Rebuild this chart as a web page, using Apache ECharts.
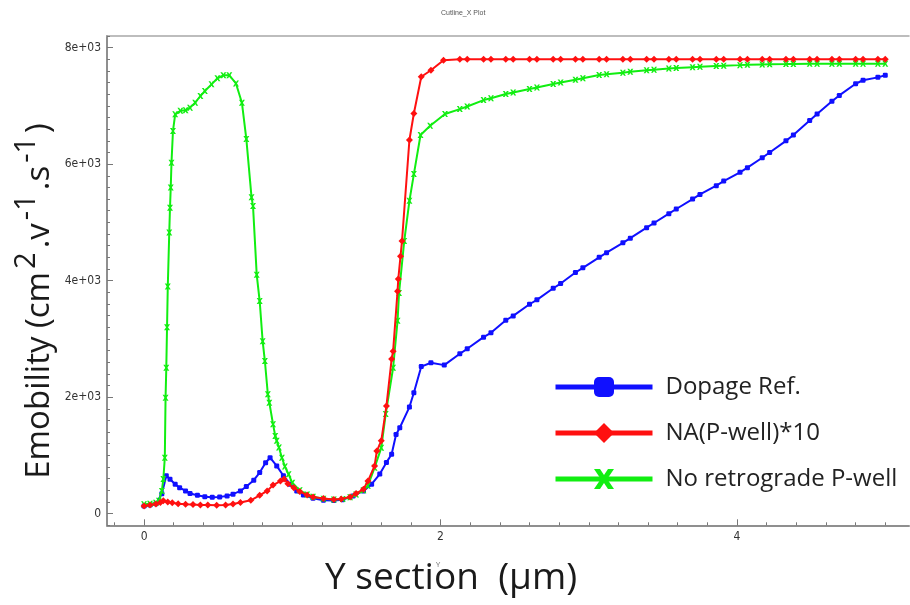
<!DOCTYPE html>
<html>
<head>
<meta charset="utf-8">
<script src="https://cdn.jsdelivr.net/npm/echarts@6/dist/echarts.min.js"></script>
<style>html,body{margin:0;padding:0;background:#fff;}#c{width:910px;height:605px;}</style>
</head>
<body>
<div id="c"></div>
<script>
// ---- data ----
const tailX = [2.13, 2.18, 2.29, 2.34, 2.44, 2.49, 2.60, 2.65, 2.76, 2.81, 2.91, 2.96, 3.07, 3.12, 3.23, 3.28, 3.39, 3.44, 3.54, 3.59, 3.70, 3.75, 3.86, 3.91, 4.02, 4.07, 4.17, 4.22, 4.33, 4.38, 4.49, 4.54, 4.64, 4.69, 4.80, 4.85, 4.95, 5.00];

const blueX = [0, 0.04, 0.08, 0.12, 0.15, 0.175, 0.21, 0.24, 0.28, 0.31, 0.36, 0.41, 0.46, 0.51, 0.56, 0.60, 0.65, 0.69, 0.74, 0.78, 0.82, 0.85, 0.895, 0.94, 0.985, 1.03, 1.075, 1.14, 1.21, 1.28, 1.34, 1.41, 1.48, 1.535, 1.59, 1.635, 1.67, 1.70, 1.725, 1.79, 1.82, 1.87, 1.935, 2.025];
const blueY = [130, 150, 170, 340, 650, 590, 505, 445, 390, 345, 315, 290, 280, 285, 305, 335, 390, 465, 575, 705, 875, 960, 820, 650, 505, 390, 320, 265, 230, 225, 240, 305, 390, 505, 680, 880, 1020, 1360, 1475, 1830, 2075, 2525, 2590, 2550];
const blueTailY = [2745, 2830, 3030, 3105, 3320, 3395, 3595, 3670, 3870, 3950, 4140, 4220, 4400, 4480, 4650, 4730, 4910, 4990, 5150, 5230, 5400, 5480, 5630, 5710, 5860, 5940, 6110, 6200, 6400, 6500, 6750, 6860, 7080, 7180, 7380, 7440, 7490, 7525];

const redX = [0, 0.04, 0.08, 0.11, 0.13, 0.16, 0.19, 0.23, 0.28, 0.33, 0.38, 0.43, 0.49, 0.55, 0.60, 0.65, 0.72, 0.78, 0.83, 0.87, 0.92, 0.945, 0.97, 1.01, 1.05, 1.10, 1.14, 1.21, 1.28, 1.33, 1.39, 1.43, 1.48, 1.51, 1.555, 1.57, 1.60, 1.635, 1.67, 1.68, 1.71, 1.715, 1.73, 1.74, 1.79, 1.82, 1.87, 1.935, 2.02];
const redY = [130, 150, 165, 190, 220, 200, 185, 170, 160, 155, 150, 148, 145, 150, 165, 190, 230, 315, 390, 490, 560, 595, 515, 445, 380, 320, 285, 260, 245, 250, 285, 345, 420, 560, 820, 1075, 1250, 1850, 2655, 2790, 3820, 4030, 4420, 4680, 6415, 6870, 7500, 7612, 7785];
const redTailY = [7800, 7800, 7800, 7800, 7800, 7800, 7800, 7800, 7800, 7800, 7800, 7800, 7800, 7800, 7800, 7800, 7800, 7800, 7800, 7800, 7800, 7800, 7800, 7800, 7800, 7800, 7800, 7800, 7800, 7800, 7800, 7800, 7800, 7800, 7800, 7800, 7800, 7800];

const greenX = [0, 0.04, 0.08, 0.10, 0.12, 0.13, 0.14, 0.145, 0.15, 0.155, 0.16, 0.17, 0.175, 0.18, 0.185, 0.195, 0.21, 0.245, 0.28, 0.31, 0.345, 0.38, 0.41, 0.455, 0.495, 0.535, 0.575, 0.62, 0.66, 0.69, 0.725, 0.735, 0.76, 0.78, 0.80, 0.815, 0.835, 0.845, 0.87, 0.885, 0.895, 0.91, 0.93, 0.95, 0.975, 1.0, 1.05, 1.10, 1.14, 1.21, 1.28, 1.34, 1.39, 1.43, 1.48, 1.51, 1.555, 1.60, 1.63, 1.68, 1.71, 1.72, 1.755, 1.79, 1.82, 1.865, 1.93, 2.03];
const greenY = [160, 170, 185, 220, 390, 595, 960, 1990, 2505, 3200, 3900, 4825, 5250, 5600, 6025, 6570, 6855, 6915, 6925, 6970, 7055, 7170, 7255, 7370, 7475, 7525, 7525, 7385, 7055, 6430, 5430, 5280, 4100, 3650, 2960, 2620, 2050, 1905, 1535, 1335, 1250, 1135, 960, 810, 675, 530, 400, 330, 290, 255, 245, 250, 280, 330, 400, 480, 790, 1130, 1710, 2505, 3310, 3790, 4680, 5370, 5830, 6500, 6660, 6860];
const greenTailY = [6945, 6990, 7100, 7130, 7205, 7230, 7290, 7315, 7375, 7400, 7450, 7475, 7530, 7545, 7570, 7585, 7610, 7620, 7640, 7650, 7665, 7672, 7685, 7690, 7700, 7705, 7712, 7715, 7718, 7720, 7722, 7723, 7724, 7724, 7725, 7725, 7725, 7725];

const seriesNames = ['Dopage Ref.', 'NA(P-well)*10', 'No retrograde P-well'];
const xTickLabels = [0, 2, 4];
const yTickLabels = [0, 2000, 4000, 6000, 8000];
const xRange = [-0.25, 5.16];
const yRange = [-200, 8200];
const xMinorStep = 0.2;
const yMinorStep = 200;

// ---- build ----
function pairs(xs, ys) { return xs.map((x, i) => [x, ys[i]]); }
function steps(lo, hi, st) { const a = []; for (let k = Math.ceil(lo / st - 1e-9); k * st <= hi + 1e-9; k++) a.push(+(k * st).toFixed(6)); return a; }
const xMinor = steps(xRange[0], xRange[1], xMinorStep);
const yMinor = steps(yRange[0], yRange[1], yMinorStep);

const blueData = pairs(blueX.concat(tailX), blueY.concat(blueTailY));
const redData = pairs(redX.concat(tailX), redY.concat(redTailY));
const greenData = pairs(greenX.concat(tailX), greenY.concat(greenTailY));

const crossPath = 'path://M0,0 L3,0 L5,3 L7,0 L10,0 L6.6,5 L10,10 L7,10 L5,7 L3,10 L0,10 L3.4,5 Z';
const tickFont = { fontFamily: 'DejaVu Sans Condensed, DejaVu Sans', fontSize: 12, color: '#333' };
const axisGray = '#8f8f8f';
const gridRect = { left: 107, top: 36, width: 802, height: 489.3, show: false, containLabel: false };

const chart = echarts.init(document.getElementById('c'), null, { renderer: 'canvas' });
chart.setOption({
  animation: false,
  backgroundColor: '#fff',
  title: {
    text: 'Cutline_X Plot', left: 436, top: 5,
    textStyle: { fontSize: 7, fontWeight: 'normal', color: '#555', fontFamily: 'Liberation Sans' }
  },
  grid: [Object.assign({}, gridRect), Object.assign({}, gridRect)],
  xAxis: [{
    gridIndex: 0, type: 'value', min: xRange[0], max: xRange[1], position: 'bottom',
    axisLine: { show: true, onZero: false, lineStyle: { color: axisGray, width: 2 } },
    axisTick: { show: true, inside: true, length: 6, customValues: xTickLabels, lineStyle: { color: '#777' } },
    axisLabel: { show: true, customValues: xTickLabels, margin: 6, ...tickFont },
    splitLine: { show: false }
  }, {
    gridIndex: 0, type: 'value', min: xRange[0], max: xRange[1], position: 'top',
    axisLine: { show: true, onZero: false, lineStyle: { color: '#a8a8a8', width: 1.5 } },
    axisTick: { show: false }, axisLabel: { show: false }, splitLine: { show: false }
  }, {
    gridIndex: 1, type: 'value', min: xRange[0], max: xRange[1], position: 'bottom',
    name: 'Y', nameLocation: 'middle', nameGap: 36,
    nameTextStyle: { fontSize: 7, color: '#777', padding: [0, 140, 0, 0] },
    axisLine: { show: false, onZero: false },
    axisTick: { show: true, inside: true, length: 3, customValues: xMinor, lineStyle: { color: '#777' } },
    axisLabel: { show: false }, splitLine: { show: false }
  }],
  yAxis: [{
    gridIndex: 0, type: 'value', min: yRange[0], max: yRange[1], position: 'left',
    axisLine: { show: true, onZero: false, lineStyle: { color: axisGray, width: 2 } },
    axisTick: { show: true, inside: true, length: 6, customValues: yTickLabels, lineStyle: { color: '#777' } },
    axisLabel: {
      show: true, customValues: yTickLabels, margin: 6, ...tickFont,
      formatter: v => v === 0 ? '0' : (v / 1000) + 'e+03'
    },
    splitLine: { show: false }
  }, {
    gridIndex: 1, type: 'value', min: yRange[0], max: yRange[1], position: 'left',
    axisLine: { show: false, onZero: false },
    axisTick: { show: true, inside: true, length: 3, customValues: yMinor, lineStyle: { color: '#777' } },
    axisLabel: { show: false }, splitLine: { show: false }
  }],
  legend: {
    data: seriesNames, orient: 'vertical', left: 548, top: 370,
    itemWidth: 97, itemHeight: 25, itemGap: 22,
    lineStyle: { width: 5 },
    textStyle: { fontFamily: 'Open Sans', fontSize: 24, color: '#222', padding: [0, 0, 0, 8] }
  },
  graphic: [{
    type: 'text', x: 325, y: 560,
    style: { text: 'Y section  (µm)', font: '37px "Open Sans"', fill: '#1a1a1a' }
  }, {
    type: 'text', x: 34, y: 301, rotation: Math.PI / 2,
    style: {
      text: '{a|Emobility (cm}{s|2}{a|.v}{s|-1}{a|.s}{s|-1}{a|)}',
      align: 'center', verticalAlign: 'middle',
      rich: {
        a: { font: '33px "Open Sans"', fill: '#1a1a1a', lineHeight: 44, verticalAlign: 'bottom' },
        s: { font: '29px "Open Sans"', fill: '#1a1a1a', lineHeight: 44, verticalAlign: 'top', padding: [0, 4, 12, 3] }
      }
    }
  }],
  series: [{
    name: seriesNames[0], type: 'line', data: blueData, xAxisIndex: 0, yAxisIndex: 0,
    symbol: 'roundRect', symbolSize: 5, showAllSymbol: true,
    lineStyle: { color: '#1010ff', width: 2 }, itemStyle: { color: '#1010ff' }, z: 2
  }, {
    name: seriesNames[2], type: 'line', data: greenData, xAxisIndex: 0, yAxisIndex: 0,
    symbol: crossPath, symbolSize: 6, showAllSymbol: true,
    lineStyle: { color: '#11ee11', width: 2 }, itemStyle: { color: '#11ee11' }, z: 3
  }, {
    name: seriesNames[1], type: 'line', data: redData, xAxisIndex: 0, yAxisIndex: 0,
    symbol: 'diamond', symbolSize: 7, showAllSymbol: true,
    lineStyle: { color: '#ff1010', width: 2 }, itemStyle: { color: '#ff1010' }, z: 4
  }]
});
</script>
</body>
</html>
